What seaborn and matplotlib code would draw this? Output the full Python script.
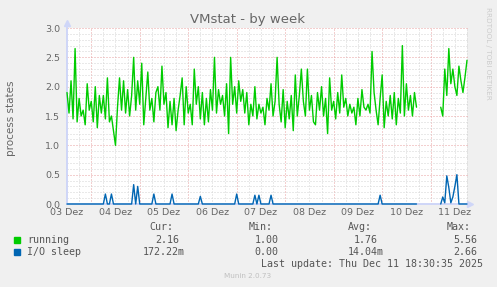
import matplotlib
matplotlib.use("Agg")
import numpy as np
import pandas as pd
import seaborn as sns
import matplotlib.pyplot as plt
from matplotlib.patches import Rectangle

# ---------------- data ----------------
day_labels = ["03 Dez", "04 Dez", "05 Dez", "06 Dez", "07 Dez",
              "08 Dez", "09 Dez", "10 Dez", "11 Dez"]
y_tick_labels = ["0.0", "0.5", "1.0", "1.5", "2.0", "2.5", "3.0"]

# hourly samples, hours since 03 Dez 00:00
seg1_start_hour = 12
running_seg1 = [
    1.9, 1.55, 2.1, 1.45, 2.65, 1.4, 1.8, 1.5, 1.6, 1.35, 2.05, 1.6, 1.75, 1.4,
    2.0, 1.3, 1.85, 1.55, 1.85, 1.45, 2.15, 1.4, 1.5, 1.25, 1.0, 1.65, 2.15, 1.6,
    2.1, 1.55, 1.95, 1.5, 1.85, 2.5, 1.6, 2.1, 1.7, 2.4, 1.35, 1.8, 2.25, 1.6,
    1.8, 1.4, 1.9, 2.0, 1.6, 2.35, 1.7, 1.9, 1.3, 1.75, 1.35, 1.8, 1.25, 1.6, 1.85, 2.15,
    1.35, 2.0, 1.55, 1.7, 1.35, 2.3, 1.7, 2.0, 1.45, 1.9, 1.35, 1.8, 1.4, 1.95,
    1.6, 2.5, 1.55, 1.95, 1.7, 1.85, 1.5, 2.05, 1.2, 2.5, 1.7, 2.0, 1.55, 2.1, 1.75, 1.95,
    1.55, 1.9, 1.35, 1.7, 1.5, 2.0, 1.45, 1.7, 1.55, 1.65, 1.35, 1.8, 1.6, 2.05,
    1.5, 1.75, 2.5, 1.7, 1.4, 1.95, 1.3, 1.75, 1.45, 1.85, 1.25, 2.2, 1.5, 1.85, 2.3, 1.75,
    1.5, 2.3, 1.6, 1.85, 1.4, 1.35, 1.9, 1.6, 2.0, 1.5, 1.8, 1.2, 2.15, 1.6,
    1.75, 1.45, 1.9, 1.55, 2.2, 1.65, 1.8, 1.5, 1.7, 1.55, 1.65, 1.35, 1.8, 1.5, 1.95, 1.65,
    1.6, 1.7, 1.55, 2.6, 1.9, 1.6, 1.35, 1.8, 2.2, 1.3, 1.75, 1.5, 1.85,
    1.45, 1.9, 1.35, 1.8, 1.55, 2.7, 1.5, 2.05, 1.6, 1.85, 1.5, 1.9, 1.65,
]
io_spike_index = [19, 22, 33, 35, 43, 52, 66, 84, 93, 95, 101, 155]
io_spike_value = [0.17, 0.17, 0.33, 0.30, 0.17, 0.17, 0.13, 0.17, 0.15, 0.15, 0.15, 0.15]

seg2_start_hour = 197
running_seg2 = [1.65, 1.5, 2.3, 1.85, 2.65, 2.05, 2.3, 2.0, 1.85, 2.35, 2.1, 1.9, 2.16, 2.45]
io_seg2 = [0.0, 0.12, 0.02, 0.48, 0.28, 0.02, 0.12, 0.3, 0.5, 0.0, 0.0, 0.0, 0.0, 0.0]

legend_names = ["running", "I/O sleep"]
legend_cur = ["2.16", "172.22m"]
legend_min = ["1.00", "0.00"]
legend_avg = ["1.76", "14.04m"]
legend_max = ["5.56", "2.66"]
last_update = "Last update: Thu Dec 11 18:30:35 2025"

# ---------------- build table ----------------
io_seg1 = [0.0] * len(running_seg1)
for i, v in zip(io_spike_index, io_spike_value):
    io_seg1[i] = v
h1 = [seg1_start_hour + i for i in range(len(running_seg1))]
h2 = [seg2_start_hour + i for i in range(len(running_seg2))]
df = pd.DataFrame({
    "hour": h1 + h2,
    "running": running_seg1 + running_seg2,
    "io": io_seg1 + io_seg2,
    "segment": [0] * len(h1) + [1] * len(h2),
})

# ---------------- style ----------------
sns.set_theme(style="white")
plt.rcParams["font.family"] = ["DejaVu Sans"]
FONT = "#666666"
W, H = 497, 287

fig = plt.figure(figsize=(W / 100, H / 100), dpi=100, facecolor="#F0F0F0")
ax = fig.add_axes([67 / W, 1 - 204 / H, 400 / W, 176 / H])
ax.set_facecolor("white")
x0, x1 = 12, 210
ax.set_xlim(x0, x1)
ax.set_ylim(0, 3.0)

dots = (0, (1, 2))
for h in range(x0, x1 + 1, 6):
    major = h % 24 == 0
    ax.axvline(h, color="#e8a0a0" if major else "#d4d4d4", lw=0.72,
               ls=dots, zorder=0.5)
for k in range(1, 31):
    v = k / 10
    major = k % 5 == 0
    ax.axhline(v, color="#e8a0a0" if major else "#d4d4d4", lw=0.72,
               ls=dots, zorder=0.5)

for s in ax.spines.values():
    s.set_visible(False)
axis_c = "#CFD6F8"
ax.plot([x0, 211.5], [0, 0], color=axis_c, lw=1.4, clip_on=False, zorder=1)
ax.plot([x0, x0], [0, 3.06], color=axis_c, lw=1.4, clip_on=False, zorder=1)
ax.plot([x0], [3.08], marker="^", ms=4, color=axis_c, clip_on=False, zorder=1)
ax.plot([211.6], [0], marker=">", ms=4, color=axis_c, clip_on=False, zorder=1)

sns.lineplot(data=df, x="hour", y="running", units="segment", estimator=None,
             color="#00CC00", lw=1.0, ax=ax, zorder=3)
sns.lineplot(data=df, x="hour", y="io", units="segment", estimator=None,
             color="#0066B3", lw=1.0, ax=ax, zorder=4)
for ln in ax.lines:
    ln.set_clip_on(False)

ax.set_xticks([12 + 24 * k for k in range(len(day_labels))])
ax.set_xticklabels(day_labels)
ax.set_yticks([0.5 * k for k in range(len(y_tick_labels))])
ax.set_yticklabels(y_tick_labels)
ax.tick_params(axis="x", length=0, pad=3, labelsize=6.8, colors=FONT)
ax.tick_params(axis="y", length=0, pad=5, labelsize=6.8, colors=FONT)
ax.set_xlabel("")
ax.set_ylabel("")

def ft(x, y, s, **kw):
    fig.text(x / W, 1 - y / H, s, **kw)

ft(248, 20, "VMstat - by week", ha="center", va="center", fontsize=9.5, color=FONT)
ft(11, 118, "process states", rotation=90, ha="center", va="center",
   fontsize=7.5, color=FONT)
ft(488, 53, "RRDTOOL / TOBI OETIKER", rotation=270, ha="center", va="center",
   fontsize=5.2, color="#cccccc")

mono = dict(family="DejaVu Sans Mono", fontsize=7.2, color="#555555", va="center", ha="left")
ft(149, 227, "Cur:", **mono)
ft(249, 227, "Min:", **mono)
ft(348, 227, "Avg:", **mono)
ft(447, 227, "Max:", **mono)
rows_y = [240, 252]
colors = ["#00CC00", "#0066B3"]
cur_x = [155, 143]
avg_x = [354, 348]
for i in range(2):
    y = rows_y[i]
    fig.add_artist(Rectangle((14 / W, 1 - (y + 3) / H), 6 / W, 6 / H,
                             color=colors[i], transform=fig.transFigure))
    ft(27, y, legend_names[i], **mono)
    ft(cur_x[i], y, legend_cur[i], **mono)
    ft(254.5, y, legend_min[i], **mono)
    ft(avg_x[i], y, legend_avg[i], **mono)
    ft(453, y, legend_max[i], **mono)
ft(261, 264, last_update, **mono)
ft(248, 276, "Munin 2.0.73", ha="center", va="center", fontsize=5.2, color="#c0c0c0")

fig.savefig("out.png", dpi=100, facecolor=fig.get_facecolor())
